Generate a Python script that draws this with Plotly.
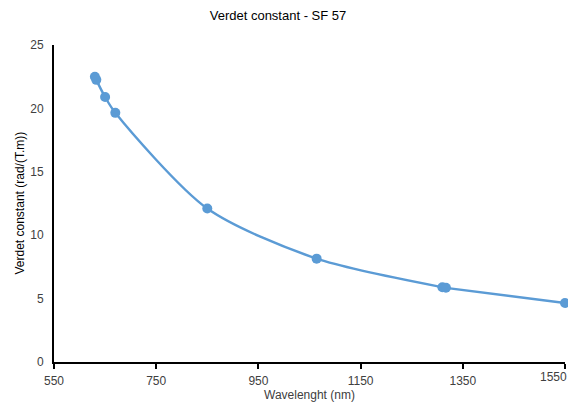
import plotly.graph_objects as go

wavelength_nm = [630, 632.8, 650, 670, 850, 1064, 1310, 1317, 1550]
verdet = [22.5, 22.25, 20.9, 19.65, 12.1, 8.15, 5.9, 5.85, 4.65]

x_ticks = [550, 750, 950, 1150, 1350, 1550]
y_ticks = [0, 5, 10, 15, 20, 25]

color = "#5B9BD5"
font = "Liberation Sans, Arial, sans-serif"

# page body has an 8px default margin, so the figure is sized to fit the window
W, H = 568, 397

fig = go.Figure(go.Scatter(
    x=wavelength_nm, y=verdet, mode="lines+markers",
    line=dict(color=color, width=2.4, shape="spline", smoothing=0.8),
    marker=dict(color=color, size=10),
    cliponaxis=False,
    showlegend=False,
))

# last tick label sits at the window edge; drawn as an annotation nudged inward
x_ticktext = [str(v) for v in x_ticks[:-1]] + [""]

fig.update_layout(
    width=W, height=H,
    margin=dict(l=46, r=11, t=37, b=43, autoexpand=False),
    paper_bgcolor="white", plot_bgcolor="white",
    font=dict(family=font, size=12, color="#404040"),
    title=dict(text="Verdet constant - SF 57", x=270 / W, xanchor="center",
               xref="container", yref="container",
               y=1 - 7 / H, yanchor="middle",
               font=dict(family=font, size=13, color="#000000")),
    xaxis=dict(
        range=[550, 1550], tickvals=x_ticks, ticktext=x_ticktext,
        automargin=False, ticklabeloverflow="allow",
        showgrid=False, zeroline=False, showline=True, linecolor="#000000", linewidth=2,
        ticks="outside", ticklen=5, tickcolor="#000000", tickwidth=1.5,
        ticklabelstandoff=2,
        tickfont=dict(size=12, color="#404040"),
    ),
    yaxis=dict(
        range=[0, 25], tickvals=y_ticks, ticktext=[str(v) for v in y_ticks],
        automargin=False,
        showgrid=False, zeroline=False, showline=True, linecolor="#000000", linewidth=2,
        ticks="", ticklabelstandoff=6,
        tickfont=dict(size=12, color="#404040"),
    ),
    annotations=[
        dict(text=str(x_ticks[-1]), xref="x", yref="paper", x=x_ticks[-1], y=0,
             xanchor="right", yanchor="middle", xshift=4, yshift=-15, showarrow=False,
             font=dict(size=12, color="#404040")),
        dict(text="Wavelenght (nm)", xref="paper", yref="paper", x=0.5, y=0,
             xanchor="center", yanchor="middle", yshift=-33, showarrow=False,
             font=dict(size=12, color="#404040")),
        dict(text="Verdet constant (rad/(T.m))", xref="paper", yref="paper", x=0, y=0.5,
             xanchor="center", yanchor="middle", xshift=-35, textangle=-90, showarrow=False,
             font=dict(size=12, color="#000000")),
    ],
)

fig.write_html("out.html")
